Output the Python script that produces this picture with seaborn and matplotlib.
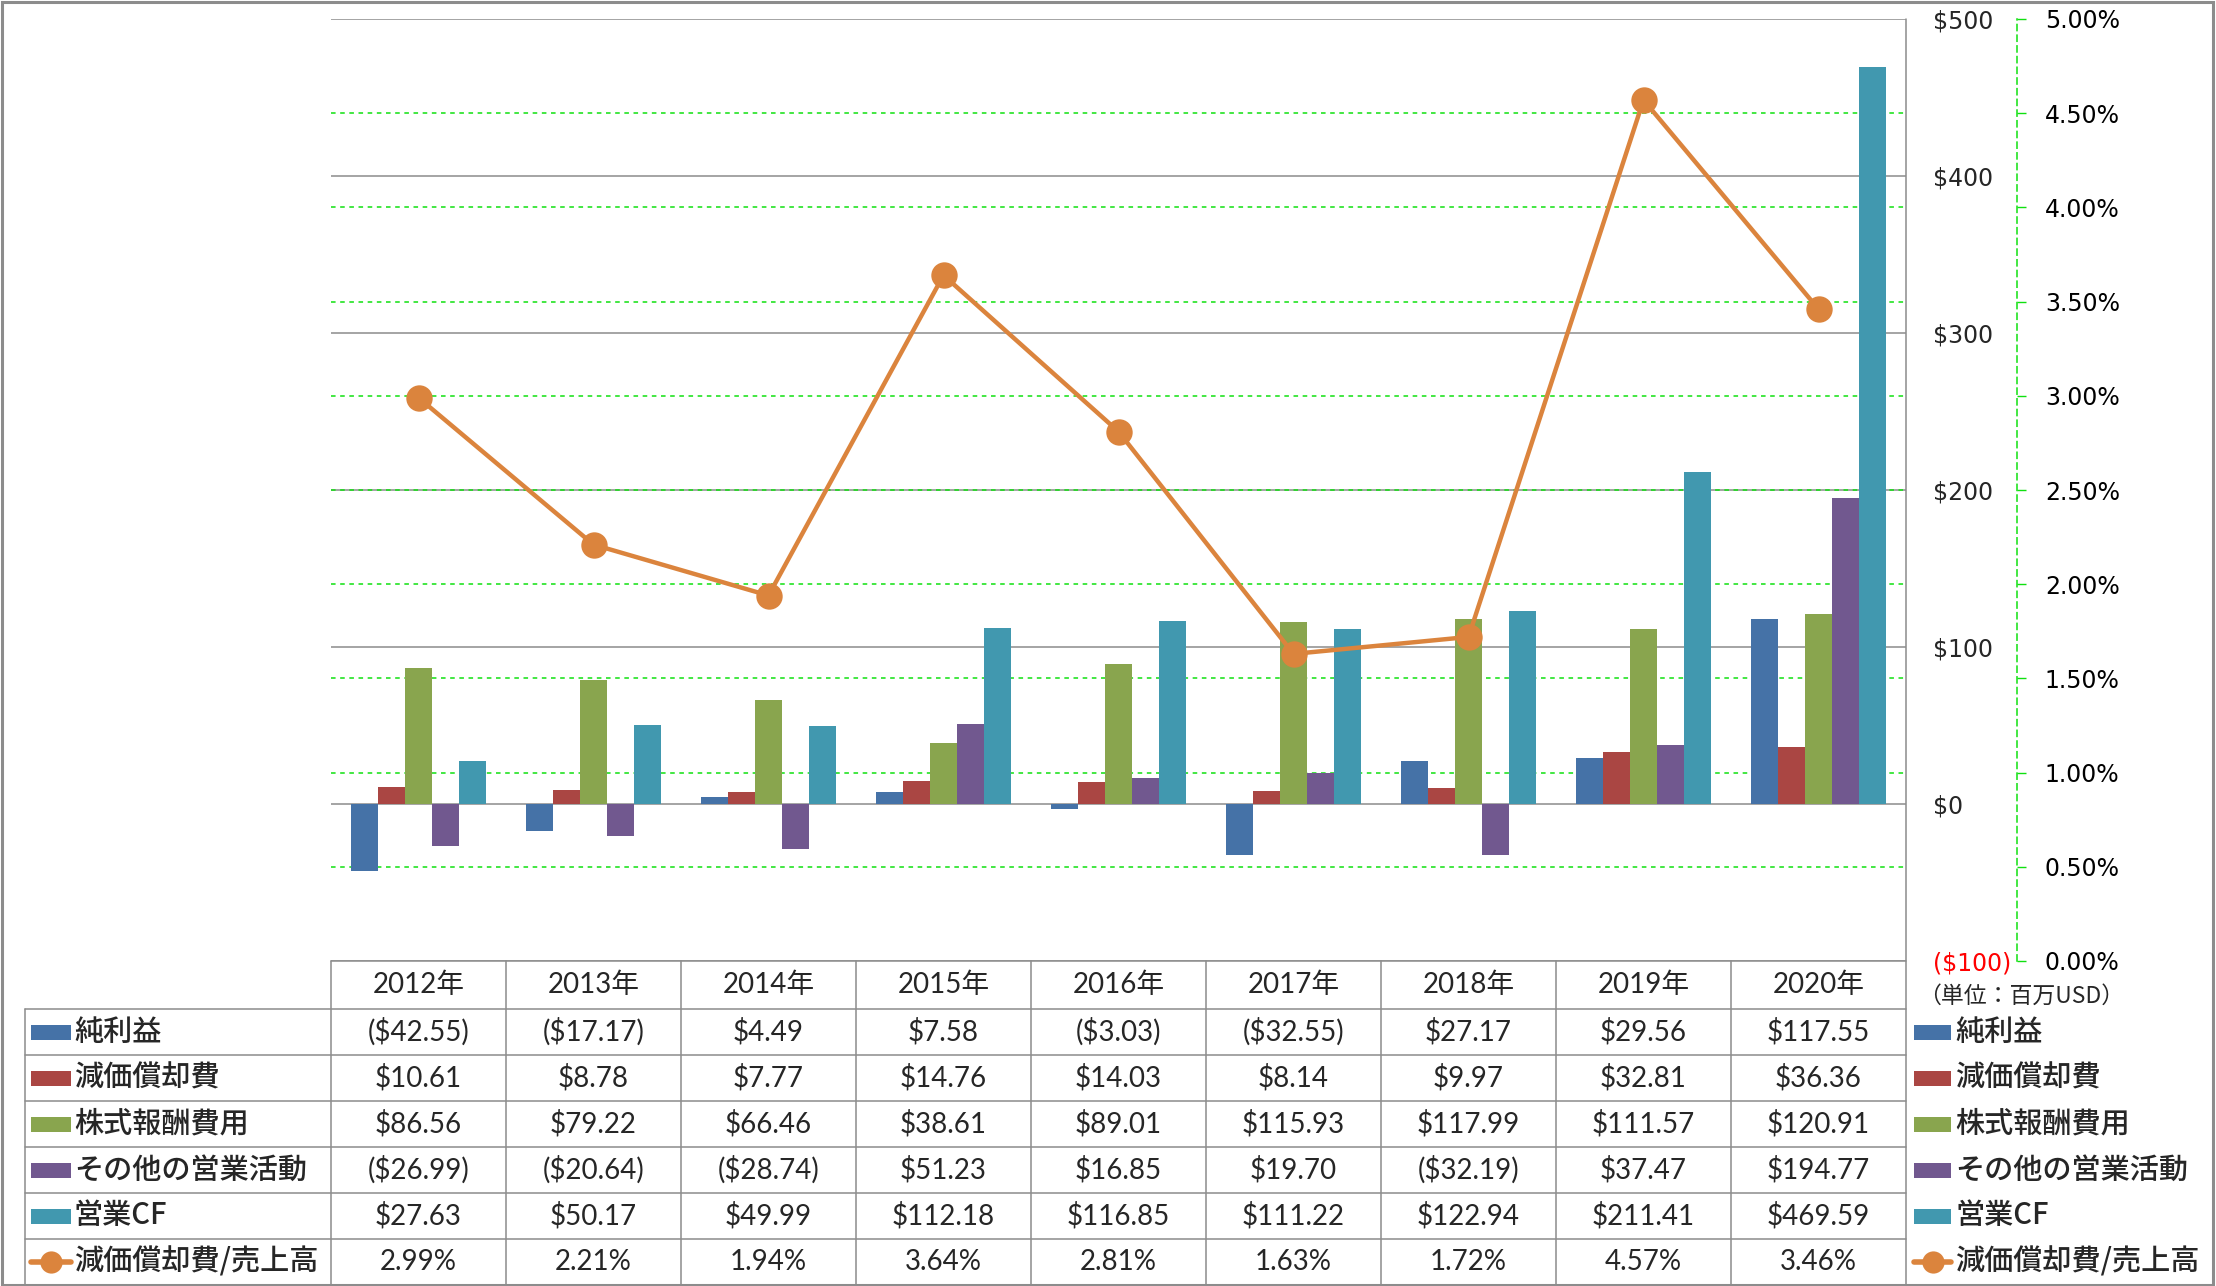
import numpy as np
import pandas as pd
import matplotlib
matplotlib.use("Agg")
import matplotlib.pyplot as plt
import seaborn as sns
from matplotlib.lines import Line2D
from matplotlib.patches import Rectangle
from matplotlib.transforms import blended_transform_factory

# ---------------- data ----------------
years = ["2012年", "2013年", "2014年", "2015年", "2016年", "2017年", "2018年", "2019年", "2020年"]
series_names = ["純利益", "減価償却費", "株式報酬費用", "その他の営業活動", "営業CF"]
net_income = [-42.55, -17.17, 4.49, 7.58, -3.03, -32.55, 27.17, 29.56, 117.55]
depreciation = [10.61, 8.78, 7.77, 14.76, 14.03, 8.14, 9.97, 32.81, 36.36]
stock_comp = [86.56, 79.22, 66.46, 38.61, 89.01, 115.93, 117.99, 111.57, 120.91]
other_ops = [-26.99, -20.64, -28.74, 51.23, 16.85, 19.70, -32.19, 37.47, 194.77]
operating_cf = [27.63, 50.17, 49.99, 112.18, 116.85, 111.22, 122.94, 211.41, 469.59]
line_name = "減価償却費/売上高"
dep_ratio = [2.99, 2.21, 1.94, 3.64, 2.81, 1.63, 1.72, 4.57, 3.46]
primary_ticks = [-100, 0, 100, 200, 300, 400, 500]
secondary_ticks = [0.0, 0.5, 1.0, 1.5, 2.0, 2.5, 3.0, 3.5, 4.0, 4.5, 5.0]
unit_note = "（単位：百万USD）"

bar_colors = ["#4572A7", "#AA4643", "#89A54E", "#71588F", "#4198AF"]
line_color = "#DB843D"
green = "#10E010"
grid_gray = "#8c8c8c"

series_values = [net_income, depreciation, stock_comp, other_ops, operating_cf]

rows = []
for name, vals in zip(series_names, series_values):
    for y, v in zip(years, vals):
        rows.append({"year": y, "series": name, "value": v})
df = pd.DataFrame(rows)

# ---------------- style ----------------
sns.set_style("white")
plt.rcParams["font.family"] = ["DejaVu Sans", "Noto Sans CJK JP"]
CJK = ["Noto Sans CJK JP", "DejaVu Sans"]
NUM = ["Lato", "Noto Sans CJK JP"]

W, H = 2216, 1286
fig = plt.figure(figsize=(W / 100, H / 100), dpi=100)


def fx(x):
    return x / W


def fy(y):
    return 1 - y / H


PL, PR, PT, PB = 331, 1906, 19, 961
ax = fig.add_axes([fx(PL), fy(PB), fx(PR) - fx(PL), fy(PT) - fy(PB)])

sns.barplot(data=df, x="year", y="value", hue="series", order=years,
            hue_order=series_names, palette=bar_colors, width=5 / 6.5, gap=0,
            saturation=1, errorbar=None, legend=False, ax=ax,
            linewidth=0, zorder=2)

ax2 = ax.twinx()

ax.set_ylim(-100, 500)
ax.set_yticks(primary_ticks)
ax.set_yticklabels([f"${v:.0f}" if v >= 0 else f"(${-v:.0f})" for v in primary_ticks])
ax.yaxis.tick_right()
ax.tick_params(axis="y", length=0, pad=19.5, labelsize=17, left=False, labelleft=False,
               right=True, labelright=True)
ax.tick_params(axis="x", bottom=False, labelbottom=False)
ax.grid(axis="y", color=grid_gray, lw=1.1)
ax.grid(axis="x", visible=False)
ax.set_axisbelow(True)
for s in ax.spines.values():
    s.set_visible(False)
ax.set_xlabel("")
ax.set_ylabel("")

# secondary axis with line
sns.pointplot(x=years, y=dep_ratio, ax=ax2, color=line_color, errorbar=None,
              markers="o", markersize=19, linewidth=3.2, markeredgewidth=0)
ax2.set_ylim(0, 5)
ax2.set_yticks(secondary_ticks)
ax2.set_yticklabels([f"{t:.2f}%" for t in secondary_ticks])
ax2.tick_params(axis="y", right=True, length=6.5, width=1.0, color=green,
                pad=13.5, labelsize=17, labelcolor="black")
ax2.tick_params(axis="x", bottom=False, labelbottom=False, top=False)
for k, s in ax2.spines.items():
    s.set_visible(k == "right")
ax2.spines["right"].set_position(("outward", 111 * 0.72))
ax2.spines["right"].set_color(green)
ax2.spines["right"].set_linestyle((0, (4, 3)))
ax2.spines["right"].set_linewidth(1.1)
ax2.grid(False)
ax2.set_xlabel("")
ax2.set_ylabel("")

# green dashed gridlines (secondary scale) behind bars
trans = blended_transform_factory(ax.transAxes, ax2.transData)
for t in secondary_ticks[1:-1]:
    ax.add_line(Line2D([0, 1], [t, t], transform=trans, color=green, lw=1.1,
                       ls=(0, (3, 3)), zorder=1.0))

ax.set_xlim(-0.5, len(years) - 0.5)
ax.set_ylim(-100, 500)
ax2.set_ylim(0, 5)

for tick, v in zip(ax.yaxis.get_major_ticks(), primary_ticks):
    if v < 0:
        tick.label1.set_color("#FF0000")
        tick.label2.set_color("#FF0000")

# ---------------- data table ----------------
def fline(x0, y0, x1, y1, color=grid_gray, lw=1.1):
    fig.add_artist(Line2D([fx(x0), fx(x1)], [fy(y0), fy(y1)],
                          transform=fig.transFigure, color=color, lw=lw))


LEGL = 25
row_edges = [PB, 1009, 1055, 1101, 1147, 1193, 1239, 1285]
col_w = (PR - PL) / len(years)
col_edges = [PL + i * col_w for i in range(len(years) + 1)]

fline(PL, PB, PR, PB)
for y in row_edges[1:]:
    fline(LEGL, y, PR, y)
fline(LEGL, row_edges[1], LEGL, row_edges[-1])
for x in col_edges[:-1]:
    fline(x, PB, x, row_edges[-1])
fline(PR, PT, PR, row_edges[-1])

# header
hy = (row_edges[0] + row_edges[1]) / 2
for i, yr in enumerate(years):
    fig.text(fx(col_edges[i] + col_w / 2), fy(hy), yr, ha="center", va="center",
             fontsize=20, family=NUM)


def money(v):
    return f"${v:,.2f}" if v >= 0 else f"(${-v:,.2f})"


all_rows = [(n, [money(v) for v in vals]) for n, vals in zip(series_names, series_values)]
all_rows.append((line_name, [f"{v:.2f}%" for v in dep_ratio]))

for r, (name, texts) in enumerate(all_rows):
    yc = (row_edges[r + 1] + row_edges[r + 2]) / 2
    for i, t in enumerate(texts):
        fig.text(fx(col_edges[i] + col_w / 2), fy(yc), t, ha="center", va="center",
                 fontsize=20, family=NUM)
    # left legend key + label, right legend key + label
    for (kx0, kx1, tx) in [(31, 71, 74), (1914, 1951, 1955)]:
        if r < len(series_names):
            fig.add_artist(Rectangle((fx(kx0), fy(yc + 7.5)), fx(kx1) - fx(kx0), 15 / H,
                                     transform=fig.transFigure, color=bar_colors[r], lw=0))
        else:
            fig.add_artist(Line2D([fx(kx0), fx(kx1)], [fy(yc), fy(yc)],
                                  transform=fig.transFigure, color=line_color, lw=4))
            fig.add_artist(Line2D([fx((kx0 + kx1) / 2)], [fy(yc)], transform=fig.transFigure,
                                  color=line_color, marker="o", ms=16, mew=0, lw=0))
        fig.text(fx(tx), fy(yc), name, ha="left", va="center", fontsize=21,
                 family=CJK, weight="medium")

fig.text(fx(1918), fy(996), unit_note, ha="left", va="center", fontsize=16.5, family=CJK)

# outer frame
fig.add_artist(Rectangle((fx(1.5), fy(1284.5)), fx(2213) - fx(1.5), (1284.5 - 1.5) / H,
                         transform=fig.transFigure, fill=False, ec=grid_gray, lw=2.2))

fig.savefig("out.png", dpi=100)
